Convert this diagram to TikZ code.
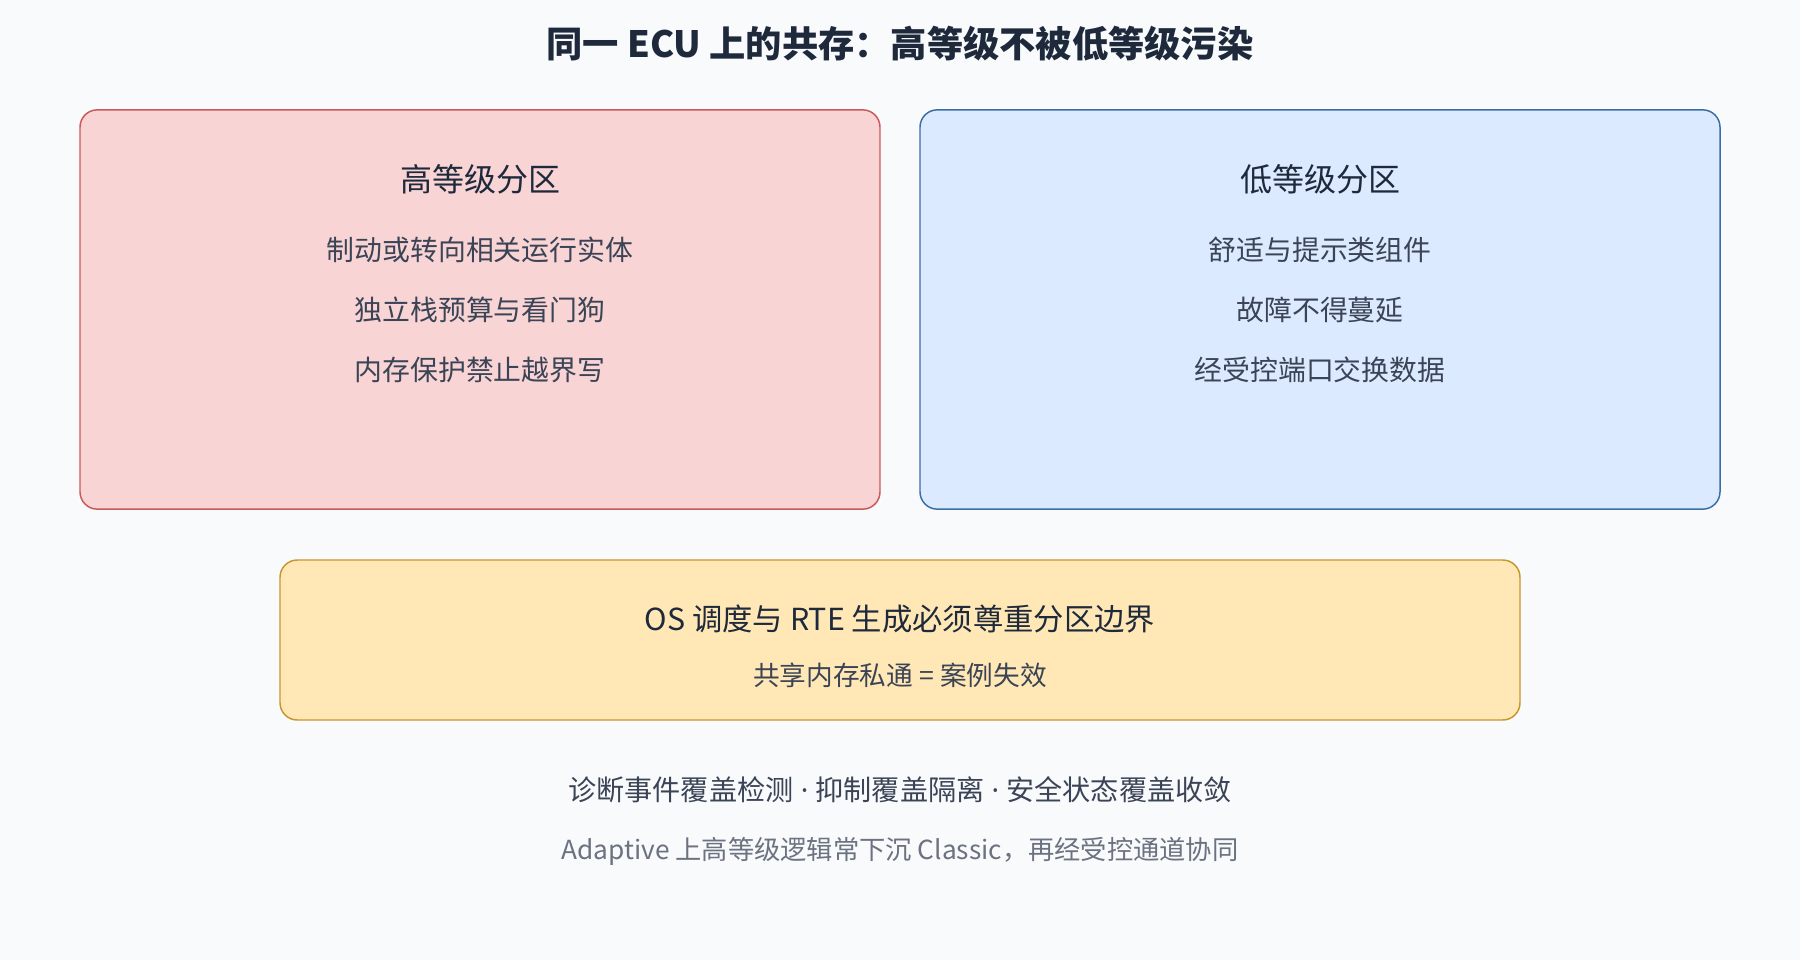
\documentclass[tikz,border=0pt]{standalone}
\usepackage{fontspec}
\setmainfont{Noto Sans CJK SC}
\newfontfamily\dotfont{Noto Sans}
\usepackage{tikz}
\usetikzlibrary{positioning,
                backgrounds}

\definecolor{bgpage}{HTML}{F8FAFC}
\definecolor{inkdark}{HTML}{1E293B}
\definecolor{inkbody}{HTML}{3B4456}
\definecolor{inkgray}{HTML}{6B7280}
\definecolor{hiFill}{HTML}{F8D4D4}
\definecolor{hiDraw}{HTML}{C85A5A}
\definecolor{loFill}{HTML}{DBEAFE}
\definecolor{loDraw}{HTML}{3B6EA5}
\definecolor{osFill}{HTML}{FFE8B5}
\definecolor{osDraw}{HTML}{C9962E}

\newcommand{\middot}{{\dotfont\ ·\ }}

\begin{document}
\begin{tikzpicture}[x=0.75pt, y=-0.75pt,
                    partition/.style={draw, line width=1.1pt, rounded corners=13pt, inner sep=0},
                    heading/.style={font=\bfseries\fontsize{27.2}{31}\selectfont, text=inkdark},
                    boxtitle/.style={font=\fontsize{24}{28}\selectfont, text=inkdark},
                    item/.style={font=\fontsize{20.9}{24}\selectfont, text=inkbody},
                    footnote/.style={font=\fontsize{21.1}{24}\selectfont, text=#1}
                    ]
    \useasboundingbox[fill=bgpage] (0,0) rectangle (1800,960);

    \node[heading] (title) at (900,44) {同一 ECU 上的共存：高等级不被低等级污染};

    %partition boxes
    \node[partition, fill=hiFill, draw=hiDraw, minimum width=600pt, minimum height=299.5pt] (high) at (480,309.5) {};
    \node[partition, fill=loFill, draw=loDraw, minimum width=600pt, minimum height=299.5pt] (low) at (1320,309.5) {};
    \node[partition, fill=osFill, draw=osDraw, minimum width=930pt, minimum height=120pt] (os) at (900,640) {};

    %high partition text
    \node[boxtitle] (highTitle) at (480,179) {高等级分区};
    \node[item] (high1) at (480,250) {制动或转向相关运行实体};
    \node[item] (high2) at (480,310) {独立栈预算与看门狗};
    \node[item] (high3) at (480,370) {内存保护禁止越界写};

    %low partition text
    \node[boxtitle] (lowTitle) at (1320,179) {低等级分区};
    \node[item] (low1) at (1320,250) {舒适与提示类组件};
    \node[item] (low2) at (1320,310) {故障不得蔓延};
    \node[item] (low3) at (1320,370) {经受控端口交换数据};

    %os / rte text
    \node[boxtitle, font=\fontsize{22.75}{26}\selectfont] (osTitle) at (900,619) {OS 调度与 RTE 生成必须尊重分区边界};
    \node[item, font=\fontsize{20}{23}\selectfont] (osSub) at (900,675) {共享内存私通 = 案例失效};

    %footer
    \node[footnote=inkbody] (foot1) at (900,790) {诊断事件覆盖检测\middot 抑制覆盖隔离\middot 安全状态覆盖收敛};
    \node[footnote=inkgray, font=\fontsize{19.7}{23}\selectfont] (foot2) at (900,851) {Adaptive 上高等级逻辑常下沉 Classic，再经受控通道协同};

\end{tikzpicture}
\end{document}
